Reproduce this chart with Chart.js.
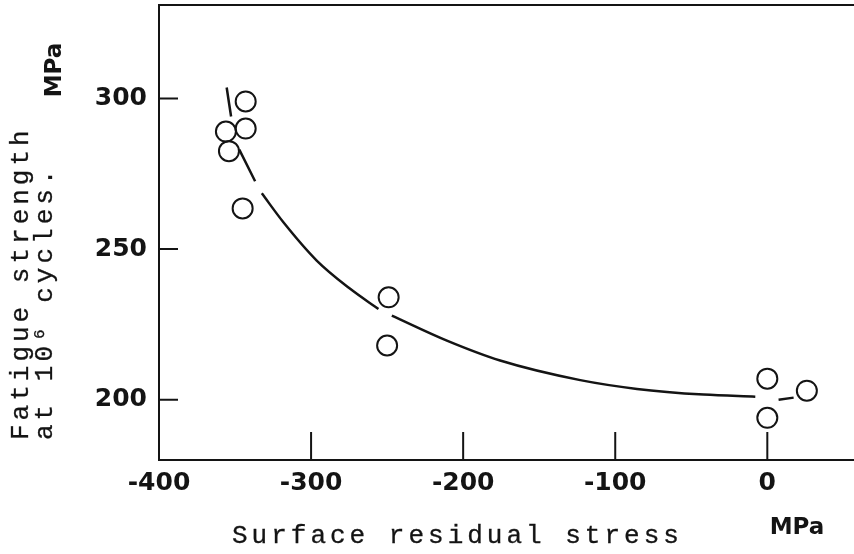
<!DOCTYPE html>
<html lang="en">
<head>
<meta charset="utf-8">
<title>Fatigue strength vs surface residual stress</title>
<script src="https://cdn.jsdelivr.net/npm/chart.js"></script>
<style>
    body { margin: 0; background: #fff; }
    #wrap { width: 854px; height: 554px; position: relative; }
</style>
</head>
<body>
<div id="wrap"><canvas id="fatigueChart"></canvas></div>
<script>
// measured points (MPa)
const stressPoints = [-343, -343, -356, -354, -345, -249, -250, 0, 26, 0];
const strengthPoints = [299, 290, 289, 282.5, 263.5, 234, 218, 207, 203, 194];

// hand drawn trend curve, null = gap in the pen stroke
const curveStress = [-355.5, -352.6, -350, -347.2, -336.8, -334.5, -332.4, -318.2, -296.3, -274.3, -255.7,
    -251, -246.9, -210.7, -175.7, -123.0, -85.7, -41.9, -7.9, 0, 7.4, 17.3];
const curveStrength = [303.6, 294.0, null, 283.0, 272.5, null, 268.5, 258.9, 246.2, 236.8, 230.1,
    null, 227.9, 219.6, 213.0, 206.5, 203.6, 201.7, 201.0, null, 200.0, 200.7];

const xTicks = [-400, -300, -200, -100, 0];
const yTicks = [200, 250, 300];

const ink = '#141414';
const monoFont = '26px "Liberation Mono", monospace';
const boldFont = 'bold 23px "DejaVu Sans", sans-serif';

// typewriter text: fill plus a thin stroke to get the heavier look
function typeText(ctx, text, x, y) {
    ctx.fillText(text, x, y);
    ctx.strokeText(text, x, y);
}

// frame top line, inward ticks and the typewriter labels
const decorations = {
    id: 'decorations',
    afterDraw(chart) {
        const { ctx, chartArea: a, scales: { x, y } } = chart;
        ctx.save();
        ctx.strokeStyle = ink;
        ctx.fillStyle = ink;
        ctx.lineWidth = 2;
        ctx.beginPath();
        ctx.moveTo(a.left, a.top);
        ctx.lineTo(a.right, a.top);
        xTicks.forEach(v => {
            const px = x.getPixelForValue(v);
            ctx.moveTo(px, a.bottom);
            ctx.lineTo(px, a.bottom - 28);
        });
        yTicks.forEach(v => {
            const py = y.getPixelForValue(v);
            ctx.moveTo(a.left, py);
            ctx.lineTo(a.left + 19, py);
        });
        ctx.stroke();

        ctx.font = monoFont;
        ctx.letterSpacing = '4px';
        ctx.lineWidth = 0.3;
        ctx.textBaseline = 'alphabetic';
        ctx.textAlign = 'left';
        typeText(ctx, 'Surface residual stress', 232, 543);

        ctx.save();
        ctx.translate(28, 440);
        ctx.rotate(-Math.PI / 2);
        typeText(ctx, 'Fatigue strength', 0, 0);
        typeText(ctx, 'at 10\u2076 cycles.', 0, 24);
        ctx.restore();

        ctx.letterSpacing = '0px';
        ctx.font = boldFont;
        ctx.textAlign = 'center';
        ctx.textBaseline = 'middle';
        ctx.fillText('MPa', 797, 528);
        ctx.save();
        ctx.translate(55, 70);
        ctx.rotate(-Math.PI / 2);
        ctx.fillText('MPa', 0, 0);
        ctx.restore();
        ctx.restore();
    }
};

const tickFont = { family: '"DejaVu Sans", sans-serif', size: 25, weight: 'bold' };

new Chart(document.getElementById('fatigueChart'), {
    type: 'scatter',
    data: {
        datasets: [{
            type: 'line',
            data: curveStress.map((s, i) => ({ x: s, y: curveStrength[i] })),
            borderColor: ink,
            borderWidth: 2.5,
            pointRadius: 0,
            cubicInterpolationMode: 'monotone',
            spanGaps: false
        }, {
            data: stressPoints.map((s, i) => ({ x: s, y: strengthPoints[i] })),
            pointRadius: 10,
            pointBorderWidth: 2,
            pointBorderColor: ink,
            pointBackgroundColor: 'rgba(255,255,255,0)'
        }]
    },
    options: {
        responsive: true,
        maintainAspectRatio: false,
        animation: false,
        layout: { autoPadding: false, padding: { top: 5, right: 0, left: 0, bottom: 0 } },
        plugins: { legend: { display: false }, tooltip: { enabled: false } },
        scales: {
            x: {
                type: 'linear',
                min: -400,
                max: 57,
                afterBuildTicks: scale => { scale.ticks = xTicks.map(v => ({ value: v })); },
                afterFit: scale => {
                    scale.height = 94;
                    scale.paddingLeft = 0;
                    scale.paddingRight = 0;
                },
                grid: { display: false, drawTicks: false },
                border: { color: ink, width: 2 },
                ticks: { font: tickFont, color: ink, padding: 8, maxRotation: 0 }
            },
            y: {
                type: 'linear',
                min: 180,
                max: 331,
                afterBuildTicks: scale => { scale.ticks = yTicks.map(v => ({ value: v })); },
                afterFit: scale => {
                    scale.width = 159;
                    scale.paddingTop = 0;
                    scale.paddingBottom = 0;
                },
                grid: { display: false, drawTicks: false },
                border: { color: ink, width: 2 },
                ticks: { font: tickFont, color: ink, padding: 12 }
            }
        }
    },
    plugins: [decorations]
});
</script>
</body>
</html>
